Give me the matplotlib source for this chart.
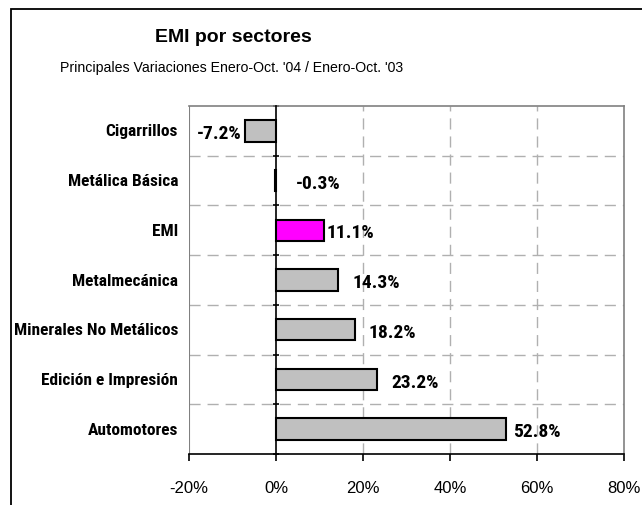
import matplotlib
matplotlib.use('Agg')

import matplotlib.pyplot as plt
import numpy as np
from matplotlib import font_manager
from matplotlib.patches import Rectangle

# Data, top to bottom as in the chart
sectores = ['Cigarrillos', 'Metálica Básica', 'EMI', 'Metalmecánica',
            'Minerales No Metálicos', 'Edición e Impresión', 'Automotores']
variacion = [-7.2, -0.3, 11.1, 14.3, 18.2, 23.2, 52.8]
destacado = 'EMI'
x_ticks = [-20, 0, 20, 40, 60, 80]

# label offsets from bar end, in pixels (Excel placed them unevenly)
label_dx = [-3, 21, 2, 14, 13, 14, 7]

names = {f.name for f in font_manager.fontManager.ttflist}
plain = ['Liberation Sans', 'DejaVu Sans']
narrow = (['Roboto Condensed'] if 'Roboto Condensed' in names else []) + plain
plt.rcParams['font.family'] = plain

fig = plt.figure(figsize=(6.42, 5.06), dpi=100)
fig.patch.set_facecolor('white')

# outer frame (cut at right and bottom like the source)
fig.add_artist(Rectangle((11 / 642, -0.1), 1.2, 0.1 + 1 - 10 / 506,
                         transform=fig.transFigure, fill=False,
                         edgecolor='black', linewidth=1.3))

fig.text(0.363, 0.925, 'EMI por sectores', ha='center', va='center',
         fontsize=14, fontweight='bold')
fig.text(0.361, 0.866, "Principales Variaciones Enero-Oct. '04 / Enero-Oct. '03",
         ha='center', va='center', fontsize=10.2)

ax = fig.add_axes([189 / 642, 1 - 455 / 506, (624 - 189) / 642, (455 - 107) / 506])

n = len(sectores)
y = np.arange(n)
colors = ['#FF00FF' if s == destacado else '#C0C0C0' for s in sectores]
ax.barh(y, variacion, height=0.43, color=colors, edgecolor='black',
        linewidth=1.5, zorder=3)

ax.set_xlim(-20, 80)
ax.set_ylim(n - 0.5, -0.5)

# gridlines
for xv in x_ticks[2:-1]:
    ax.axvline(xv, color='#B0B0B0', linewidth=1, dashes=(8, 5), zorder=1)
for yb in np.arange(0.5, n - 0.5, 1):
    ax.axhline(yb, color='#B0B0B0', linewidth=1, dashes=(8, 5), zorder=1)

# plot area border
for s in ['top', 'right']:
    ax.spines[s].set_color('#808080')
    ax.spines[s].set_linewidth(1.2)
ax.axvline(-20, color='#808080', linewidth=1.5, zorder=2)
ax.spines['bottom'].set_color('black')
ax.spines['bottom'].set_linewidth(1.2)

# category axis sits at 0
ax.spines['left'].set_position(('data', 0))
ax.spines['left'].set_linewidth(1.2)
ax.spines['left'].set_zorder(4)
ax.set_yticks(np.arange(-0.5, n, 1))
ax.set_yticklabels([])
ax.tick_params(axis='y', direction='inout', length=5, width=1.2)

ax.set_xticks(x_ticks)
ax.set_xticklabels([f'{v}%' for v in x_ticks], fontsize=12)
ax.tick_params(axis='x', direction='out', length=5, width=1.2, pad=14)

# category labels on the left of the plot area
ytr = ax.get_yaxis_transform()
for yi, name in zip(y, sectores):
    ax.text(-0.025, yi, name, transform=ytr, ha='right', va='center',
            fontsize=12.5, fontweight='bold', family=narrow)

# value labels
for yi, v, dx in zip(y, variacion, label_dx):
    ha = 'right' if v < -1 else 'left'
    ax.annotate(f'{v:.1f}%', xy=(v, yi), xytext=(dx * 0.72, -1.5),
                textcoords='offset points', ha=ha, va='center',
                fontsize=14, fontweight='bold', family=narrow, zorder=5)

fig.savefig('out.png', dpi=100)
